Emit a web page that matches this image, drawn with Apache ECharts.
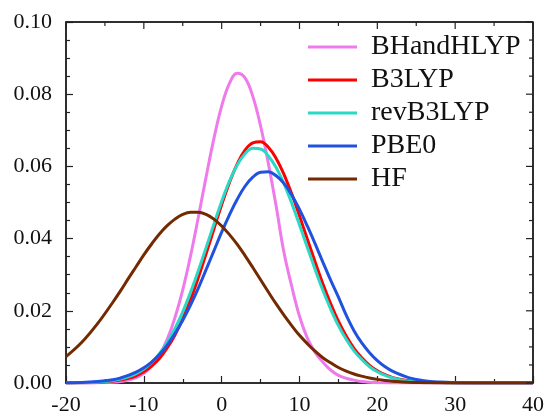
<!DOCTYPE html>
<html>
<head>
<meta charset="utf-8">
<script src="https://cdn.jsdelivr.net/npm/echarts@6/dist/echarts.min.js"></script>
<style>
html,body{margin:0;padding:0;background:#fff;}
#chart{width:547px;height:416px;}
</style>
</head>
<body>
<div id="chart"></div>
<script>
var xValues = [-20,-18,-16,-14,-13,-12,-11,-10,-9,-8,-7,-6,-5,-4,-3,-2,-1,0,1,2,3,4,5,6,7,8,9,10,11,12,13,14,15,16,17,18,19,20,21,22,24,26,28,30,35,40];
var seriesNames = ['BHandHLYP','B3LYP','revB3LYP','PBE0','HF'];
var bhandhlyp = [0,0,0.00004,0.0002,0.0004,0.0008,0.0015,0.0027,0.0047,0.0077,0.0121,0.0181,0.0258,0.0352,0.0459,0.0571,0.0677,0.0767,0.0830,0.0858,0.0845,0.0794,0.0712,0.0608,0.0490,0.0362,0.0268,0.0185,0.0125,0.0085,0.0058,0.0036,0.0021,0.0013,0.0008,0.0004,0.0002,0.0001,0.00005,0.00002,0,0,0,0,0,0];
var b3lyp = [0.00001,0.00004,0.00015,0.0005,0.0008,0.0013,0.0020,0.0031,0.0047,0.0068,0.0097,0.0133,0.0178,0.0231,0.0292,0.0358,0.0426,0.0494,0.0555,0.0607,0.0645,0.0665,0.0668,0.0653,0.0622,0.0578,0.0524,0.0463,0.0399,0.0336,0.0275,0.0220,0.0171,0.0130,0.0096,0.0070,0.0049,0.0034,0.0023,0.0015,0.0006,0.0002,0.00007,0.00002,0,0];
var revb3lyp = [0.00002,0.00007,0.00023,0.00065,0.0011,0.0017,0.0026,0.0039,0.0057,0.0081,0.0112,0.0151,0.0197,0.0251,0.0311,0.0375,0.0440,0.0503,0.0559,0.0604,0.0635,0.0650,0.0648,0.0629,0.0597,0.0552,0.0498,0.0438,0.0376,0.0315,0.0257,0.0205,0.0159,0.0121,0.0089,0.0065,0.0045,0.0031,0.0021,0.0014,0.0005,0.0002,0.00006,0.00002,0,0];
var pbe0 = [0.00005,0.00014,0.0004,0.0009,0.0014,0.0021,0.0030,0.0042,0.0058,0.0079,0.0105,0.0137,0.0174,0.0216,0.0263,0.0314,0.0366,0.0418,0.0466,0.0509,0.0545,0.0570,0.0584,0.0585,0.0574,0.0553,0.0521,0.0481,0.0435,0.0386,0.0335,0.0285,0.0238,0.0188,0.0145,0.0111,0.0084,0.0062,0.0045,0.0032,0.0015,0.00065,0.00026,0.0001,0.00001,0];
var hf = [0.0073,0.0112,0.0163,0.0223,0.0255,0.0289,0.0322,0.0355,0.0385,0.0413,0.0436,0.0454,0.0467,0.0473,0.0473,0.0467,0.0454,0.0435,0.0411,0.0384,0.0353,0.0320,0.0286,0.0252,0.0219,0.0188,0.0159,0.0132,0.0109,0.0088,0.0070,0.0056,0.0043,0.0033,0.0025,0.0019,0.0014,0.0010,0.0007,0.0005,0.0002,0.0001,0.00005,0.00002,0,0];
var seriesValues = [bhandhlyp, b3lyp, revb3lyp, pbe0, hf];
var colors = ['#ee7aec','#ff0000','#2ad8c6','#2152df','#732a00'];
var xMajorTicks = [-20,-10,0,10,20,30,40];
var xMinorTicks = [-15,-5,5,15,25,35];
var yMajorTicks = [0,0.02,0.04,0.06,0.08,0.1];
var yMinorTicks = [0.005,0.01,0.015,0.025,0.03,0.035,0.045,0.05,0.055,0.065,0.07,0.075,0.085,0.09,0.095];

(function(){
  var chart = echarts.init(document.getElementById('chart'), null, {renderer:'canvas'});
  var font = 'Liberation Serif';
  var ink = '#222';
  var tickStyle = {color:ink, width:1.2};
  chart.setOption({
    animation:false,
    backgroundColor:'#fff',
    grid:{left:66, right:11, top:22, bottom:32, containLabel:false,
      show:true, borderColor:ink, borderWidth:1.5, backgroundColor:'transparent'},
    xAxis:{type:'value', min:-20, max:40, interval:10,
      axisLine:{show:true, onZero:false, lineStyle:{color:ink, width:1.5}},
      axisTick:{show:true, inside:true, length:7, lineStyle:tickStyle},
      minorTick:{show:true, splitNumber:2, length:4, lineStyle:tickStyle},
      splitLine:{show:false},
      axisLabel:{margin:11, color:'#111', fontFamily:font, fontSize:22}},
    yAxis:{type:'value', min:0, max:0.1, interval:0.02,
      axisLine:{show:true, onZero:false, lineStyle:{color:ink, width:1.5}},
      axisTick:{show:true, inside:true, length:7, lineStyle:tickStyle},
      minorTick:{show:true, splitNumber:4, length:4, lineStyle:tickStyle},
      splitLine:{show:false},
      axisLabel:{margin:14, color:'#111', fontFamily:font, fontSize:22,
        formatter:function(v){return v.toFixed(2);}}},
    legend:{
      orient:'vertical', left:303, top:28, align:'left',
      icon:'rect', itemWidth:49, itemHeight:3, itemGap:5,
      data:seriesNames,
      textStyle:{fontFamily:font, fontSize:28, color:'#111', lineHeight:28, padding:[0,0,0,9]}
    },
    series: seriesNames.map(function(name, k){
      return {
        name:name, type:'line',
        data: xValues.map(function(x,i){return [x, seriesValues[k][i]];}),
        smooth:0.4, showSymbol:false, symbol:'none',
        lineStyle:{color:colors[k], width:3},
        itemStyle:{color:colors[k]},
        z: 2 + k
      };
    })
  });

  // mirrored ticks on the top and right edges, placed through the axis scales
  var pA = chart.convertToPixel({xAxisIndex:0, yAxisIndex:0}, [-20, 0]);
  var pB = chart.convertToPixel({xAxisIndex:0, yAxisIndex:0}, [40, 0.1]);
  if (!pA || !pB) return;
  var gx0 = pA[0], gy0 = pA[1], gx1 = pB[0], gy1 = pB[1];
  var els = [];
  function seg(x1,y1,x2,y2,w){
    els.push({type:'line', silent:true, z:50, shape:{x1:x1,y1:y1,x2:x2,y2:y2}, style:{stroke:ink, lineWidth:w}});
  }
  seg(gx0, gy1, gx1, gy1, 1.5);
  seg(gx1, gy1, gx1, gy0, 1.5);
  xMajorTicks.forEach(function(v){ var x = chart.convertToPixel({xAxisIndex:0}, v); seg(x, gy1, x, gy1+7, 1.2); });
  xMinorTicks.forEach(function(v){ var x = chart.convertToPixel({xAxisIndex:0}, v); seg(x, gy1, x, gy1+4, 1.2); });
  yMajorTicks.forEach(function(v){ var y = chart.convertToPixel({yAxisIndex:0}, v); seg(gx1, y, gx1-7, y, 1.2); });
  yMinorTicks.forEach(function(v){ var y = chart.convertToPixel({yAxisIndex:0}, v); seg(gx1, y, gx1-4, y, 1.2); });
  chart.setOption({graphic:{elements:els}});
})();
</script>
</body>
</html>
